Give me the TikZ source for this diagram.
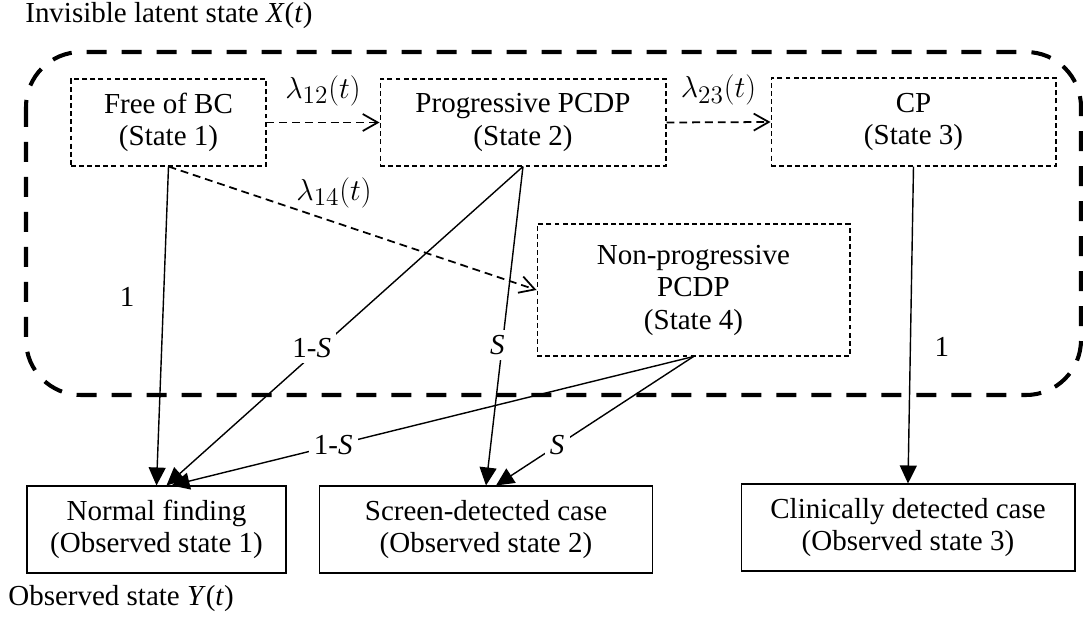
\documentclass[tikz,border=0pt]{standalone}
\usepackage{fontspec}
\setmainfont{Liberation Serif}
\usetikzlibrary{arrows.meta,positioning}
\tikzset{
  latent/.style={draw,dash pattern=on 2.8pt off 1.8pt,line width=0.6pt,inner sep=0pt,
    align=center,minimum height=1.74cm},
  observed/.style={draw,line width=0.6pt,inner sep=0pt,align=center,minimum height=1.74cm},
  trans/.style={draw,dash pattern=on 4.5pt off 2.8pt,line width=1pt,
    -{Straight Barb[length=0.3cm,width=0.34cm,line width=1pt]}},
  detect/.style={draw,line width=0.8pt,-{Triangle[length=0.36cm,width=0.34cm]}},
  rate/.style={inner sep=2pt,font=\fontsize{19}{20}\selectfont},
  prob/.style={inner sep=2pt},
  gap/.style={fill=white,inner sep=3pt},
  frame/.style={line width=2.3pt,dash pattern=on 0.4cm off 0.3cm,rounded corners=1.1cm},
}

\begin{document}
\begin{tikzpicture}[x=0.02cm,y=-0.02cm,font=\fontsize{16.5}{18.5}\selectfont]
  \useasboundingbox (0,0) rectangle (1083,619);

  % latent states
  \node[latent,minimum width=3.9cm] (s1) at (168.5,122.5) {Free of BC\\(State 1)};
  \node[latent,minimum width=5.72cm] (s2) at (523,122.5) {Progressive PCDP\\(State 2)};
  \node[latent,minimum width=5.7cm,minimum height=1.76cm] (s3) at (913.5,122) {CP\\(State 3)};
  \node[latent,minimum width=6.26cm,minimum height=2.64cm] (s4) at (693.5,290)
    {Non-progressive\\PCDP\\(State 4)};

  % observed states
  \node[observed,minimum width=5.18cm] (o1) at (156.5,529.5) {Normal finding\\(Observed state 1)};
  \node[observed,minimum width=6.68cm] (o2) at (486,529.5) {Screen-detected case\\(Observed state 2)};
  \node[observed,minimum width=6.68cm] (o3) at (908,527.5) {Clinically detected case\\(Observed state 3)};

  \draw[frame] (26,52) rectangle (1081,395);
  \node[anchor=base west,inner sep=0pt] (xlab) at (25,22) {Invisible latent state \textit{X}(\textit{t})};
  \node[anchor=base west,inner sep=0pt] (ylab) at (8,605) {Observed state \textit{Y}(\textit{t})};

  % transitions
  \draw[trans] (s1.east) -- node[rate,above=0.25cm] {$\lambda_{12}(t)$} (s2.west);
  \draw[trans] (s2.east) -- node[rate,above=0.25cm] {$\lambda_{23}(t)$} (s3.west);
  \draw[trans] (s1.south) -- node[rate,pos=0.45,above=0.2cm] {$\lambda_{14}(t)$} (s4.west);

  % screening
  \draw[detect] (s1.south) -- node[prob,pos=0.41,left=0.5cm] {1} (o1.north);
  \draw[detect] (s2.south) -- node[gap,pos=0.57,xshift=-0.16cm] {1-\textit{S}} ([xshift=0.2cm]o1.north);
  \draw[detect] (s2.south) -- node[gap,pos=0.56,xshift=-0.1cm] {\textit{S}} (o2.north);
  \draw[detect] (s4.south) -- node[gap,pos=0.69] {1-\textit{S}} ([xshift=0.3cm]o1.north);
  \draw[detect] (s4.south) -- node[gap,pos=0.69] {\textit{S}} ([xshift=0.2cm]o2.north);
  \draw[detect] (s3.south) -- node[prob,pos=0.57,right=0.4cm] {1} (o3.north);
\end{tikzpicture}
\end{document}
